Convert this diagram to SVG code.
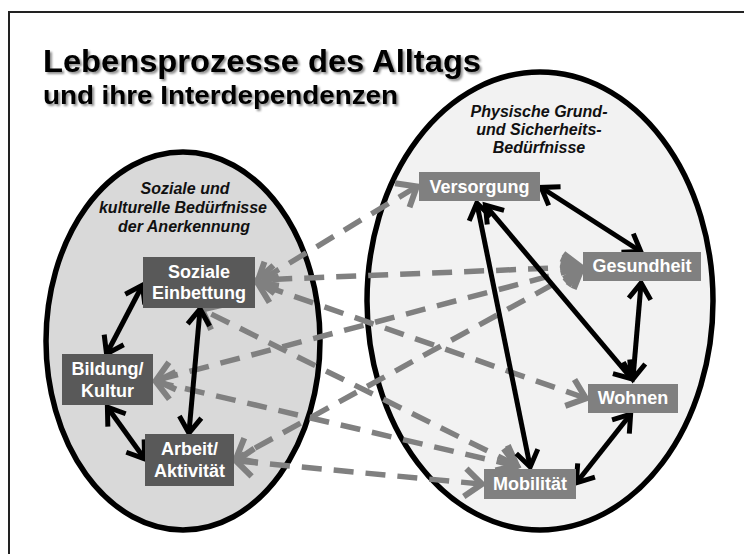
<svg xmlns="http://www.w3.org/2000/svg" width="744" height="554" viewBox="0 0 744 554">
<defs>
<style>
.frame{stroke:#222;stroke-width:2;fill:none}
.ell{stroke:#000;stroke-width:5.5}
.lbl{font-family:"Liberation Sans",Arial,sans-serif;font-weight:bold;font-style:italic;font-size:16px;fill:#111;text-anchor:middle}
.bl{fill:#595959}
.br{fill:#808080}
.nt{font-family:"Liberation Sans",Arial,sans-serif;font-weight:bold;font-size:18px;fill:#fff;text-anchor:middle}
.solid{stroke:#000;stroke-width:5;fill:none;marker-start:url(#ab);marker-end:url(#ab)}
.dash{stroke:#808080;stroke-width:5.5;fill:none;stroke-dasharray:20 12;marker-start:url(#ag);marker-end:url(#ag)}
.title{font-family:"Liberation Sans",Arial,sans-serif;font-weight:bold;fill:#000;filter:url(#sh)}
</style>
<marker id="ab" viewBox="-24 -18 32 36" markerWidth="32" markerHeight="36" refX="0" refY="0" orient="auto-start-reverse" markerUnits="userSpaceOnUse" style="overflow:visible">
<path d="M-15,-11 L1,0 L-15,11" fill="none" stroke="#000" stroke-width="5"/>
</marker>
<marker id="ag" viewBox="-24 -20 32 40" markerWidth="32" markerHeight="40" refX="0" refY="0" orient="auto-start-reverse" markerUnits="userSpaceOnUse" style="overflow:visible">
<path d="M-16,-14 L1,0 L-16,14" fill="none" stroke="#808080" stroke-width="6"/>
</marker>
<filter id="sh" x="-5%" y="-30%" width="110%" height="160%">
<feDropShadow dx="2" dy="2" stdDeviation="1.3" flood-color="#000" flood-opacity="0.45"/>
</filter>
</defs>
<rect width="744" height="554" fill="#fff"/>
<g id="frame">
<path class="frame" d="M9,554 V12 H744"/>
</g>
<g id="title">
<text class="title" x="43" y="72" font-size="31" textLength="438" lengthAdjust="spacingAndGlyphs">Lebensprozesse des Alltags</text>
<text class="title" x="43" y="104" font-size="25.5" textLength="355" lengthAdjust="spacingAndGlyphs">und ihre Interdependenzen</text>
</g>
<g id="group-social">
<ellipse class="ell" cx="183" cy="341" rx="137" ry="189" fill="#d9d9d9"/>
<text class="lbl" x="185" y="194">Soziale und</text>
<text class="lbl" x="183" y="213">kulturelle Bedürfnisse</text>
<text class="lbl" x="184" y="232">der Anerkennung</text>
</g>
<g id="group-physical">
<ellipse class="ell" cx="540" cy="301" rx="173" ry="229" fill="#f2f2f2"/>
<text class="lbl" x="539" y="117">Physische Grund-</text>
<text class="lbl" x="539" y="135">und Sicherheits-</text>
<text class="lbl" x="539" y="153">Bedürfnisse</text>
</g>
<g id="connectors">
<path class="dash" d="M416,187 L258,282"/>
<path class="dash" d="M580,267 L258,280"/>
<path class="dash" d="M585,398 L259,284"/>
<path class="dash" d="M516,465 L203,310"/>
<path class="dash" d="M580,268 L157,380"/>
<path class="dash" d="M516,466 L157,382"/>
<path class="dash" d="M581,269 L237,458"/>
<path class="dash" d="M481,484 L237,461"/>
<path class="solid" d="M142,286 L107,353"/>
<path class="solid" d="M108,408 L144,458"/>
<path class="solid" d="M200,310 L189,432"/>
<path class="solid" d="M542,188 L640,251"/>
<path class="solid" d="M477,204 L530,466"/>
<path class="solid" d="M486,206 L631,378"/>
<path class="solid" d="M641,284 L633,378"/>
<path class="solid" d="M630,415 L577,482"/>
</g>
<g id="soziale-einbettung">
<rect class="bl" x="143" y="257" width="112" height="51"/>
<text class="nt" x="199" y="278">Soziale</text>
<text class="nt" x="199" y="299">Einbettung</text>
</g>
<g id="bildung-kultur">
<rect class="bl" x="62" y="354" width="91" height="51"/>
<text class="nt" x="107.5" y="375">Bildung/</text>
<text class="nt" x="107.5" y="397">Kultur</text>
</g>
<g id="arbeit-aktivitaet">
<rect class="bl" x="145" y="434" width="89" height="52"/>
<text class="nt" x="189.5" y="455">Arbeit/</text>
<text class="nt" x="189.5" y="477">Aktivität</text>
</g>
<g id="versorgung">
<rect class="br" x="419" y="172" width="121" height="29"/>
<text class="nt" x="479.5" y="193">Versorgung</text>
</g>
<g id="gesundheit">
<rect class="br" x="583" y="252" width="118" height="29"/>
<text class="nt" x="642" y="272">Gesundheit</text>
</g>
<g id="wohnen">
<rect class="br" x="588" y="384" width="90" height="29"/>
<text class="nt" x="633" y="404">Wohnen</text>
</g>
<g id="mobilitaet">
<rect class="br" x="484" y="469" width="92" height="30"/>
<text class="nt" x="530" y="490">Mobilität</text>
</g>
</svg>
